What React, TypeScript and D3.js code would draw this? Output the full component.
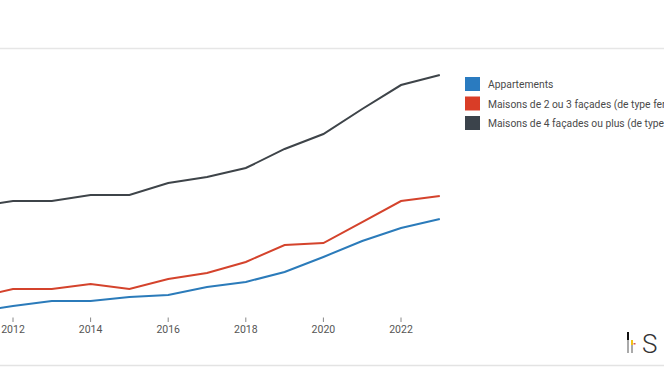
import * as d3 from "d3";

const years = [2011, 2012, 2013, 2014, 2015, 2016, 2017, 2018, 2019, 2020, 2021, 2022, 2023];
const appartements = [135000, 141400, 146800, 146800, 151100, 153300, 161900, 167300, 178000, 194200, 211400, 225400, 235000];
const maisons23 = [150000, 159700, 159700, 165100, 159700, 170500, 177000, 188800, 207100, 209200, 231800, 254400, 259800];
const maisons4 = [248000, 254400, 254400, 260900, 260900, 273800, 280200, 289900, 310400, 326500, 353400, 379200, 390000];
const tickYears = [2012, 2014, 2016, 2018, 2020, 2022];

const series = [
  { key: "app", label: "Appartements", color: "#2b7bba", values: appartements },
  { key: "m23", label: "Maisons de 2 ou 3 façades (de type fermé + de type demi-fermé)", color: "#d4432c", values: maisons23 },
  { key: "m4", label: "Maisons de 4 façades ou plus (de type ouvert)", color: "#3e4449", values: maisons4 }
];
const legendColors = ["#2a7bc0", "#d93d27", "#3b434b"];

export default function App() {
  const width = 664;
  const height = 374;
  const x = d3.scaleLinear([2012, 2022], [13, 401]);
  const y = d3.scaleLinear([100000, 400000], [344.5, 65.7]);
  const font = "Roboto, 'Noto Sans', Arial, sans-serif";

  return (
    <svg
      width={width}
      height={height}
      viewBox={`0 0 ${width} ${height}`}
      style={{ position: "absolute", left: 0, top: 0, background: "#fff" }}
    >
      <line x1={0} x2={width} y1={48.5} y2={48.5} stroke="#e6e6e6" strokeWidth={1.5} />
      <line x1={0} x2={width} y1={365.5} y2={365.5} stroke="#e3e3e3" strokeWidth={1.5} />
      {series.map((s) => {
        const line = d3
          .line<number>()
          .x((_, i) => x(years[i]))
          .y((v) => y(v));
        return <path key={s.key} d={line(s.values) ?? undefined} fill="none" stroke={s.color} strokeWidth={2} />;
      })}
      {tickYears.map((t) => (
        <g key={t}>
          <line x1={x(t)} x2={x(t)} y1={317.5} y2={322} stroke="#888" strokeWidth={1} />
          <text x={x(t)} y={333} textAnchor="middle" fontSize={10.5} fill="#555" fontFamily={font}>
            {t}
          </text>
        </g>
      ))}
      {series.map((s, i) => (
        <g key={s.key} transform={`translate(465, ${77 + i * 19.5})`}>
          <rect x={0} y={0} width={15} height={14} fill={legendColors[i]} />
          <text x={23} y={11} fontSize={10.3} fill="#4a4a4a" fontFamily={font}>
            {s.label}
          </text>
        </g>
      ))}
      <g>
        <rect x={627} y={332} width={2} height={8} fill="#111" />
        <rect x={627} y={340} width={2} height={13} fill="#aaa" />
        <rect x={631} y={340} width={2} height={5} fill="#f0c419" />
        <rect x={631} y={345} width={2} height={8} fill="#aaa" />
        <rect x={633.5} y={343} width={2} height={1.5} fill="#d9534f" />
        <text x={642} y={353} fontSize={26} fontWeight={300} fill="#333" fontFamily={font}>
          S
        </text>
      </g>
    </svg>
  );
}
